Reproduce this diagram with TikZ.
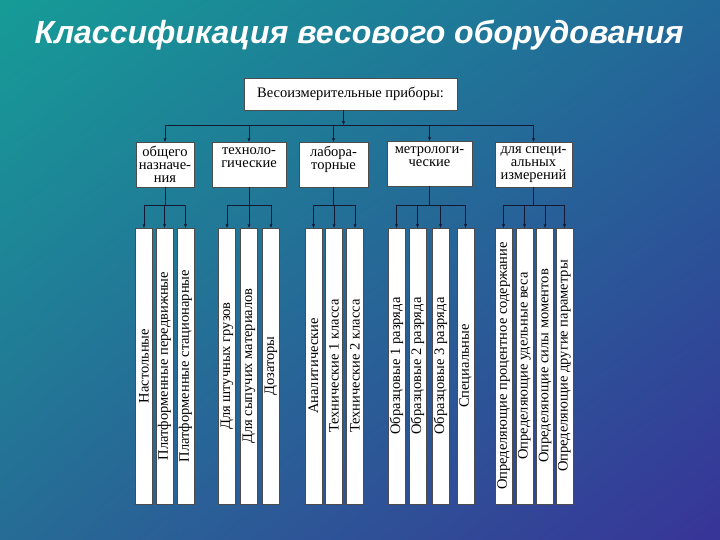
\documentclass[tikz,border=0pt]{standalone}
\usepackage{fontspec}
\setmainfont{Liberation Serif}
\newfontfamily\titlefont{Liberation Sans}
\usetikzlibrary{arrows.meta,shadings}

\definecolor{bgul}{RGB}{22,156,151}
\definecolor{bgur}{RGB}{34,104,152}
\definecolor{bgll}{RGB}{38,108,150}
\definecolor{bglr}{RGB}{56,52,152}
\definecolor{linec}{RGB}{20,24,50}

\begin{document}
\begin{tikzpicture}[x=1pt, y=-1pt,
    frame/.style={draw=black!70, fill=white, font=\fontsize{14.5}{13}\selectfont},
    box/.style={frame, inner xsep=0pt, inner ysep=1pt, minimum height=45pt, align=center},
    leaf/.style={frame, rotate=90, minimum width=276pt,
      minimum height=17pt, inner sep=0pt},
    link/.style={draw=linec, thin},
    arr/.style={link, -{Stealth[length=4pt,width=3pt]}}]

    \useasboundingbox (0,0) rectangle (720,540);
    \shade[upper left=bgul, upper right=bgur, lower left=bgll, lower right=bglr]
      (0,0) rectangle (720,540);

    \node[text=white, font=\titlefont\bfseries\itshape\fontsize{32}{32}\selectfont]
      (title) at (359,35) {Классификация весового оборудования};

    \node[frame, minimum width=213pt, minimum height=32pt]
      (pribory) at (350.5,94) {Весоизмерительные приборы:};

    % two-line texts get an empty third line, so they sit at the top
    \node[box, minimum width=58pt] (obsh) at (165,164.5) {общего\\назначе-\\ния};
    \node[box, minimum width=74pt] (tehn) at (249,164.5) {техноло-\\гические\\\mbox{}};
    \node[box, minimum width=69pt] (lab)  at (333.5,164.5) {лабора-\\торные\\\mbox{}};
    \node[box, minimum width=85pt] (metr) at (429.5,163.5) {метрологи-\\ческие\\\mbox{}};
    \node[box, minimum width=77pt] (spec) at (533.5,164.5) {для специ-\\альных\\измерений};

    \coordinate (top) at (0,125);
    \coordinate (grp) at (0,205);

    \draw[arr] ([xshift=-7pt]pribory.south) -- ([xshift=-7pt]pribory.south |- top);
    \draw[link] (obsh.north |- top) -- (spec.north |- top);
    \foreach \b in {obsh,tehn,lab,metr,spec}
      \draw[arr] (\b.north |- top) -- (\b.north);

    % vertical leaves
    \foreach \x/\t [count=\i] in {144/Настольные, 164.5/Платформенные передвижные,
      185.5/Платформенные стационарные, 227/Для штучных грузов,
      249/Для сыпучих материалов, 271/Дозаторы, 313.5/Аналитические,
      334/Технические 1 класса, 355/Технические 2 класса,
      396.5/Образцовые 1 разряда, 417.5/Образцовые 2 разряда,
      440.5/Образцовые 3 разряда, 465.5/Специальные,
      503.5/Определяющие процентное содержание, 524.5/Определяющие удельные веса,
      545/Определяющие силы моментов, 564.5/Определяющие другие параметры}
      \node[leaf] (l\i) at (\x,366) {\t};

    \foreach \b/\first/\last in {obsh/1/3, tehn/4/6, lab/7/9, metr/10/13, spec/14/17}
    {
      \draw[link] (\b.south) -- (\b.south |- grp);
      \draw[link] (l\first.east |- grp) -- (l\last.east |- grp);
      \foreach \i in {\first,...,\last}
        \draw[arr] (l\i.east |- grp) -- (l\i.east);
    }

\end{tikzpicture}
\end{document}
